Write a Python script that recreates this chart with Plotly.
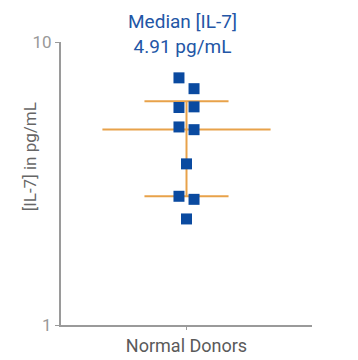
import plotly.graph_objects as go

# Data
category = "Normal Donors"
values = [7.47, 6.84, 5.87, 5.90, 5.01, 4.90, 3.71, 2.85, 2.78, 2.37]
median_value = 4.91
upper_quartile = 6.18
lower_quartile = 2.85
title_lines = ["Median [IL-7]", "4.91 pg/mL"]
y_title = "[IL-7] in pg/mL"
y_ticks = [1, 10]

# Layout-only jitter (horizontal offsets in axis units)
jitter = [-0.06, 0.06, -0.06, 0.06, -0.06, 0.06, 0.0, -0.06, 0.06, 0.0]

blue = "#0a4aa0"
orange = "#e8a24a"
grey = "#9a9a9a"
text_grey = "#666666"

W, H = 358, 360
ML, MR, MT, MB = 53, 54, 34, 39
plot_w = W - ML - MR
plot_h = H - MT - MB

fig = go.Figure()

fig.add_trace(go.Scatter(x=[-0.67, 0.67], y=[median_value, median_value], mode="lines",
                         line=dict(color=orange, width=2), hoverinfo="skip", showlegend=False))
for q in (upper_quartile, lower_quartile):
    fig.add_trace(go.Scatter(x=[-0.335, 0.335], y=[q, q], mode="lines",
                             line=dict(color=orange, width=2), hoverinfo="skip", showlegend=False))
fig.add_trace(go.Scatter(x=[0, 0], y=[lower_quartile, upper_quartile], mode="lines",
                         line=dict(color=orange, width=2), hoverinfo="skip", showlegend=False))

fig.add_trace(go.Scatter(x=jitter, y=values, mode="markers",
                         marker=dict(symbol="square", size=11, color=blue, line=dict(width=0)),
                         showlegend=False))

fig.update_layout(
    width=W, height=H,
    margin=dict(l=ML, r=MR, t=MT, b=MB),
    plot_bgcolor="white", paper_bgcolor="white",
    font=dict(family="Roboto", color=text_grey),
    xaxis=dict(range=[-1, 1], tickvals=[0], ticktext=[category], showgrid=False, zeroline=False,
               showline=True, linecolor=grey, linewidth=2, ticks="outside", ticklen=3,
               tickcolor=grey, tickfont=dict(size=18, color="#5a5a5a")),
    yaxis=dict(type="log", range=[0, 1], tickvals=y_ticks, ticktext=[str(t) for t in y_ticks],
               showgrid=False, zeroline=False, showline=True, linecolor=grey, linewidth=2,
               ticks="outside", ticklen=4, tickcolor=grey, tickfont=dict(size=17, color="#999999")),
    annotations=[
        dict(text="<br>".join(title_lines), xref="paper", yref="paper",
             x=(174 - ML) / plot_w, y=(H - MB - 25.5) / plot_h, yanchor="middle",
             showarrow=False, font=dict(size=19, color="#2356a6")),
        dict(text=y_title, textangle=-90, xref="paper", yref="paper",
             x=(10 - ML) / plot_w, y=(H - MB - 151) / plot_h,
             showarrow=False, font=dict(size=17, color=text_grey)),
    ],
)

fig.write_html("out.html")
